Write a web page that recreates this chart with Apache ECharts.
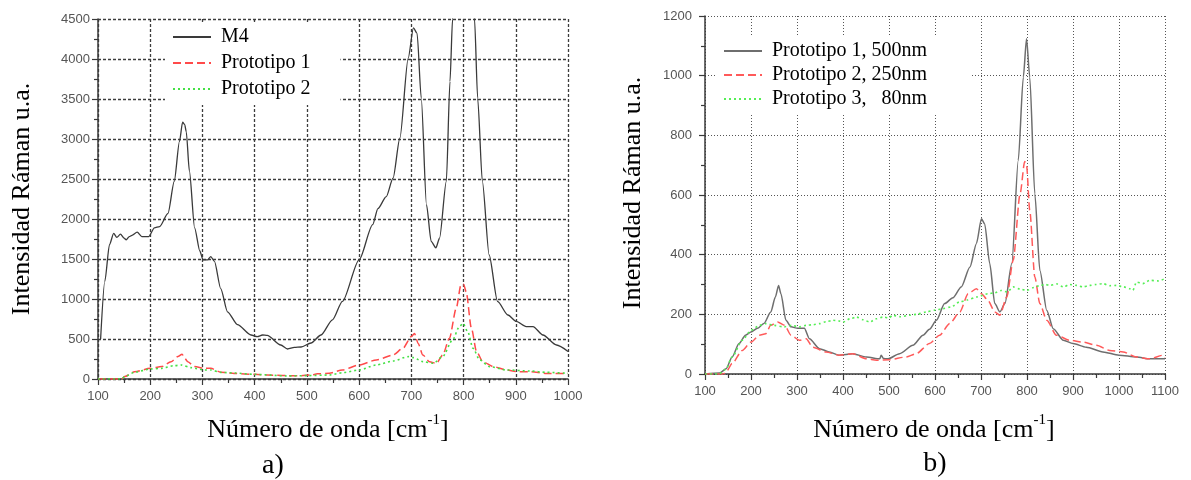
<!DOCTYPE html>
<html><head><meta charset="utf-8">
<script src="https://cdn.jsdelivr.net/npm/echarts@6/dist/echarts.min.js"></script>
<style>html,body{margin:0;padding:0;background:#fff}#c{width:1191px;height:480px}</style>
</head><body><div id="c"></div>
<script>
// ---------- Panel a) ----------
const aXTicks = [100, 1000, 100];      // min, max, step
const aYTicks = [0, 4500, 500];
const m4X = [105,113,122,130,136,143,150,154,160,165,175,184,197,208,218,234,246,256,262,266,269,275,285,295,301,310,316,323,335,348,367,393,405,415,424,450,463,476,489,508,527,549,568,600,626,636,652,665,678,694,704,711,719,729,738,747,754,767,774,779,785,792,800,808,815,821,827,836,849,865,885,901,920,933,952,978,1000];
const m4Y = [500,1220,1680,1820,1770,1810,1760,1740,1780,1795,1835,1780,1780,1890,1905,2070,2470,2970,3210,3180,3090,2600,1890,1600,1490,1490,1530,1470,1130,840,680,550,530,550,545,425,375,395,400,450,550,740,970,1490,1930,2130,2280,2510,3010,4010,4390,4320,3510,2180,1720,1640,1760,2470,3720,4500,5800,7500,8200,7500,5800,4500,3510,2470,1550,970,800,720,655,655,550,425,345];
const p1aX = [100,120,145,151,170,200,222,240,253,261,266,272,285,304,316,335,361,400,424,463,489,508,520,543,568,600,633,665,684,700,706,713,722,735,748,760,773,786,795,800,805,815,825,837,857,882,901,927,959,1000];
const p1aY = [0,0,0,30,90,133,155,215,280,310,260,215,155,133,133,85,70,58,50,42,42,50,65,72,113,175,238,300,385,530,570,445,300,215,195,300,510,885,1175,1185,1090,635,340,215,155,113,92,92,70,70];
const p2aX = [100,145,151,170,200,222,246,259,278,304,316,335,361,400,463,501,543,570,600,633,665,694,704,722,742,760,779,792,799,808,818,831,850,882,927,959,1000];
const p2aY = [0,0,28,85,125,133,167,175,142,113,113,83,75,58,38,42,50,80,113,175,225,280,267,217,196,280,488,655,696,592,384,238,154,113,100,83,71];

// ---------- Panel b) ----------
const bXTicks = [100, 1100, 100];
const bYTicks = [0, 1200, 200];
const p1bX = [100,132,146,159,174,188,200,214,228,243,253,260,265,276,287,302,316,327,349,370,392,421,451,480,483,488,498,523,552,574,588,603,621,639,657,676,690,701,708,719,730,741,752,767,781,792,799,806,817,828,843,857,879,900,929,965,1000,1038,1067,1100];
const p1bY = [0,3,18,57,102,130,141,153,169,208,258,297,269,180,158,153,153,118,85,74,63,68,57,51,63,52,51,68,96,130,150,180,236,256,292,359,437,520,503,370,236,208,236,370,716,995,1124,995,604,347,213,152,113,102,90,74,63,57,51,51];
const p2bX = [100,140,146,159,181,200,218,232,243,258,273,287,305,320,334,363,392,421,451,473,501,537,559,588,610,632,654,672,690,701,715,730,741,756,770,785,795,799,806,817,828,843,864,893,922,951,980,1009,1038,1067,1096,1100];
const p2bY = [0,0,7,35,79,107,130,135,163,174,163,130,113,118,90,74,63,68,51,46,48,57,68,102,130,169,208,269,286,269,247,208,197,258,381,604,712,700,548,325,236,180,130,113,107,96,79,74,57,51,63,55];
const p3bX = [100,130,145,159,181,200,218,232,250,272,288,305,320,335,349,363,378,390,400,415,429,444,458,472,487,500,508,525,545,560,581,600,617,635,654,670,690,715,730,744,757,770,785,799,815,828,840,850,865,879,893,908,922,936,950,965,980,994,1010,1023,1030,1038,1052,1067,1085,1100];
const p3bY = [0,0,15,57,113,146,163,169,163,158,163,158,163,165,169,175,180,178,174,185,191,182,174,185,191,188,197,192,197,200,208,214,219,225,242,248,258,269,272,280,275,292,285,280,290,297,300,297,302,292,300,297,292,297,300,303,296,297,292,286,280,308,303,314,312,320];

const namesA = ['M4', 'Prototipo 1', 'Prototipo 2'];
const namesB = ['Prototipo 1, 500nm', 'Prototipo 2, 250nm', 'Prototipo 3,   80nm'];
const yTitle = 'Intensidad Ráman u.a.';
const xTitleMain = 'Número de onda [cm';
const xTitleSup = '-1';
const panelLabels = ['a)', 'b)'];

const zip = (xs, ys) => xs.map((x, i) => [x, ys[i]]);
const SERIF = '"Liberation Serif","DejaVu Serif",serif';
const SANS = '"Liberation Sans",Arial,sans-serif';

function xAxisFor(gi, t, gridStyle) {
  return {
    type: 'value', gridIndex: gi, min: t[0], max: t[1], interval: t[2],
    axisLine: { show: true, onZero: false, lineStyle: { color: '#3a3a3a', width: 1.5 } },
    axisTick: { show: true, length: 6, lineStyle: { color: '#3a3a3a', width: 1.2 } },
    minorTick: { show: true, splitNumber: 2, length: 4, lineStyle: { color: '#3a3a3a', width: 1.2 } },
    axisLabel: { color: '#555', fontFamily: SANS, fontSize: 13, margin: 11, formatter: v => String(v) },
    splitLine: { show: true, lineStyle: gridStyle },
    minorSplitLine: { show: false }
  };
}
function yAxisFor(gi, t, gridStyle, margin) {
  return {
    type: 'value', gridIndex: gi, min: t[0], max: t[1], interval: t[2],
    axisLine: { show: true, onZero: false, lineStyle: { color: '#3a3a3a', width: 1.5 } },
    axisTick: { show: true, length: 6, lineStyle: { color: '#3a3a3a', width: 1.2 } },
    minorTick: { show: true, splitNumber: 2, length: 4, lineStyle: { color: '#3a3a3a', width: 1.2 } },
    axisLabel: { color: '#555', fontFamily: SANS, fontSize: 13, margin: margin, formatter: v => String(v) },
    splitLine: { show: true, lineStyle: gridStyle }
  };
}
const gridA = { color: '#3c3c3c', width: 1.3, type: [3, 2] };
const gridB = { color: '#555', width: 1, type: [1, 2] };

function lineSeries(name, data, xi, color, width, type, z) {
  return {
    name: name, type: 'line', xAxisIndex: xi, yAxisIndex: xi, data: data,
    showSymbol: false, symbol: 'none', smooth: 0.25, smoothMonotone: 'x',
    lineStyle: { color: color, width: width, type: type }, itemStyle: { color: color },
    z: z, animation: false, clip: true
  };
}

function textG(x, y, rot, text, size, extraRich) {
  return {
    type: 'text', x: x, y: y, rotation: rot, z: 100,
    style: {
      text: text, fontFamily: SERIF, fontSize: size, fill: '#000',
      align: 'center', verticalAlign: 'middle',
      rich: extraRich || {}
    }
  };
}
const xTitleRich = {
  m: { fontFamily: SERIF, fontSize: 26, fill: '#000', verticalAlign: 'bottom', lineHeight: 30 },
  s: { fontFamily: SERIF, fontSize: 15, fill: '#000', verticalAlign: 'top', lineHeight: 30 }
};
const xTitleText = '{m|' + xTitleMain + '}{s|' + xTitleSup + '}{m|]}';

const legendCommon = {
  orient: 'vertical', backgroundColor: '#fff', itemWidth: 38, itemHeight: 14,
  selectedMode: false,
  itemStyle: { opacity: 0, borderWidth: 0 },
  textStyle: { fontFamily: SERIF, fontSize: 20, color: '#000', padding: [0, 0, 0, 5] }
};

const option = {
  backgroundColor: '#fff',
  animation: false,
  grid: [
    { left: 98, top: 19, width: 470, height: 360 },
    { left: 705, top: 16, width: 460, height: 358 }
  ],
  xAxis: [xAxisFor(0, aXTicks, gridA), xAxisFor(1, bXTicks, gridB)],
  yAxis: [yAxisFor(0, aYTicks, gridA, 8), yAxisFor(1, bYTicks, gridB, 13)],
  legend: [
    Object.assign({}, legendCommon, {
      data: namesA, left: 165, top: 23, padding: [4, 30, 6, 7], itemGap: 6,
      textStyle: Object.assign({}, legendCommon.textStyle, { lineHeight: 18 })
    }),
    Object.assign({}, legendCommon, {
      data: namesB, left: 716, top: 37, padding: [4, 45, 6, 7], itemGap: 4,
      textStyle: Object.assign({}, legendCommon.textStyle, { lineHeight: 19 })
    })
  ],
  series: [
    lineSeries(namesA[0], zip(m4X, m4Y), 0, '#3a3a3a', 1.3, 'solid', 3),
    lineSeries(namesA[1], zip(p1aX, p1aY), 0, '#ff4a4a', 1.5, [8, 4], 4),
    lineSeries(namesA[2], zip(p2aX, p2aY), 0, '#44e044', 1.6, [2, 3], 5),
    lineSeries(namesB[0], zip(p1bX, p1bY), 1, '#6e6e6e', 1.5, 'solid', 3),
    lineSeries(namesB[1], zip(p2bX, p2bY), 1, '#ff5a5a', 1.5, [8, 4], 4),
    lineSeries(namesB[2], zip(p3bX, p3bY), 1, '#55ee55', 1.6, [2, 3], 5)
  ],
  graphic: [
    textG(22, 199, Math.PI / 2, yTitle, 26),
    textG(633, 193, Math.PI / 2, yTitle, 26),
    textG(328, 428, 0, xTitleText, 26, xTitleRich),
    textG(934, 428, 0, xTitleText, 26, xTitleRich),
    textG(273, 466, 0, panelLabels[0], 28),
    textG(935, 464, 0, panelLabels[1], 28)
  ]
};
const chart = echarts.init(document.getElementById('c'), null, { renderer: 'canvas' });
chart.setOption(option);
</script></body></html>
